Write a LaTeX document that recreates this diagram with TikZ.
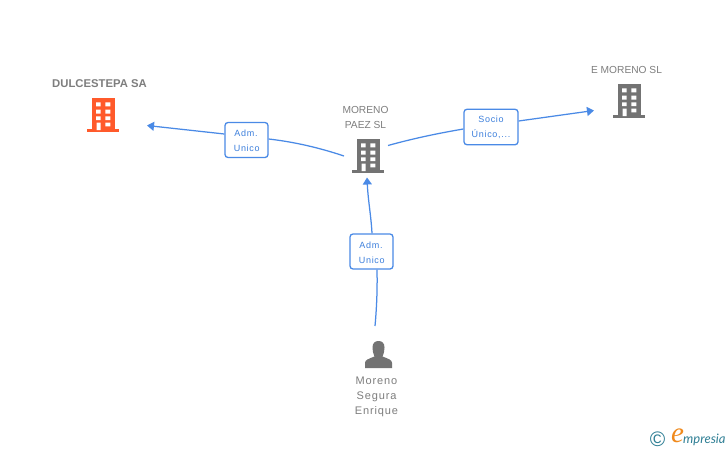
\documentclass[tikz,border=0pt]{standalone}
\usepackage{fontspec}
\setmainfont{Liberation Sans}
\newfontfamily\spaced[LetterSpace=8]{Liberation Sans}
\newfontfamily\logofont[Scale=1]{Lato}
\newfontfamily\logoscript{Liberation Serif}
\usetikzlibrary{arrows.meta}
\definecolor{linkblue}{HTML}{4A8AE6}
\definecolor{boxtext}{HTML}{3C7FDC}
\definecolor{iconorange}{HTML}{FF5A2B}
\definecolor{icongray}{HTML}{737373}
\definecolor{labelgray}{HTML}{7E7E7E}
\definecolor{logoteal}{HTML}{2F7F95}
\definecolor{logoorange}{HTML}{F08A1D}
\tikzset{
  x=1pt,y=-1pt,
  link/.style={draw=linkblue,line width=1.25pt},
  linkarrow/.style={link,-{Triangle[length=7pt,width=9pt]}},
  rolebox/.style={draw=linkblue,line width=1.3pt,rounded corners=3pt,fill=white,
    text=boxtext,align=center,inner sep=0pt,font=\spaced\fontsize{9}{15.5}\selectfont},
  caption/.style={text=labelgray,align=center,inner sep=0pt,font=\fontsize{10.2}{15.3}\selectfont},
  pics/building/.style={code={
    \fill[#1] (-11,0) rectangle (11.5,32);
    \fill[#1] (-16,31) rectangle (16,34);
    \fill[white] (-7,4.3) rectangle (-2.3,8.3) (2.3,4.3) rectangle (7.3,8.3)
      (-7,11.7) rectangle (-2.3,15.7) (2.3,11.7) rectangle (7.3,15.7)
      (-7,18.3) rectangle (-2.3,22) (2.3,18.3) rectangle (7.3,22)
      (-6.3,24.5) rectangle (-2.3,32) (2.3,24.5) rectangle (7.3,28.3);
  }},
}
\begin{document}
\begin{tikzpicture}
\useasboundingbox (0,0) rectangle (728,450);
\fill[white] (0,0) rectangle (728,450);

% icons
\pic at (103,98) {building=iconorange};
\pic at (368,139) {building=icongray};
\pic at (629,84) {building=icongray};
\fill[icongray] (365,368) -- (365,363) .. controls (365,360) and (368,359) .. (374.5,356.5)
  .. controls (373,353) and (372.5,350) .. (372.5,347.5)
  .. controls (372.5,343) and (375,341) .. (378.5,341)
  .. controls (382,341) and (384.5,343) .. (384.5,347.5)
  .. controls (384.5,350) and (384,353) .. (382.5,356.5)
  .. controls (389,359) and (392,360) .. (392,363) -- (392,368) -- cycle;

% captions
\node[caption,font=\bfseries\fontsize{11.3}{13}\selectfont] (dulcelabel) at (99.5,84) {DULCESTEPA SA};
\node[caption] (morenolabel) at (365.5,117.7) {MORENO\\PAEZ SL};
\node[caption] (emorenolabel) at (626.5,70) {E MORENO SL};
\node[caption,font=\spaced\fontsize{11}{15}\selectfont] (personlabel) at (376.5,397.3) {Moreno\\Segura\\Enrique};

% role boxes
\node[rolebox,minimum width=43pt,minimum height=35pt] (admleft) at (246.5,140) {};
\node[rolebox,minimum width=54pt,minimum height=35.5pt] (socio) at (491,127) {};
\node[rolebox,minimum width=43pt,minimum height=35pt] (admbottom) at (371.5,251.5) {};
\node[rolebox,draw=none,fill=none] (admlefttext) at (246,141) {Adm.\hspace{4pt}\\[-0.5pt]\,Unico};
\node[rolebox,draw=none,fill=none] (sociotext) at (491,127.5) {Socio\\Único,...};
\node[rolebox,draw=none,fill=none] (admbottomtext) at (371,252.5) {Adm.\hspace{4pt}\\[-0.5pt]\,Unico};

% free connector ends
\coordinate (dulceend) at (147,125.5);
\coordinate (morenoleft) at (344,156);
\coordinate (morenoright) at (388,145.5);
\coordinate (morenobottom) at (367,177.5);
\coordinate (emorenoend) at (594,110.5);
\coordinate (personend) at (375,326);

% connectors
\draw[linkarrow] (admleft.west |- 0,134) -- (dulceend);
\draw[link] (admleft.east |- 0,139) .. controls (295,142) and (320,148) .. (morenoleft);
\draw[link] (morenoright) .. controls (415,138) and (440,133) .. (socio.west |- 0,129);
\draw[linkarrow] (socio.east |- 0,121) -- (emorenoend);
\draw[linkarrow] (admbottom.north -| 372,0) .. controls (371,215) and (368,200) .. (morenobottom);
\draw[link] (admbottom.south -| 377,0) .. controls (377.5,290) and (376.5,310) .. (personend);

% logo
\node[text=logoteal,inner sep=0pt,font=\fontsize{21}{21}\selectfont] (copy) at (657.5,439) {©};
\node[text=logoorange,inner sep=0pt,font=\logoscript\itshape\fontsize{29}{29}\selectfont] (logoe) at (677.5,435.5) {e};
\node[text=logoteal,inner sep=0pt,anchor=base west,font=\logofont\itshape\fontsize{13}{13}\selectfont] (logotext) at (683,443) {mpresia};
\end{tikzpicture}
\end{document}
